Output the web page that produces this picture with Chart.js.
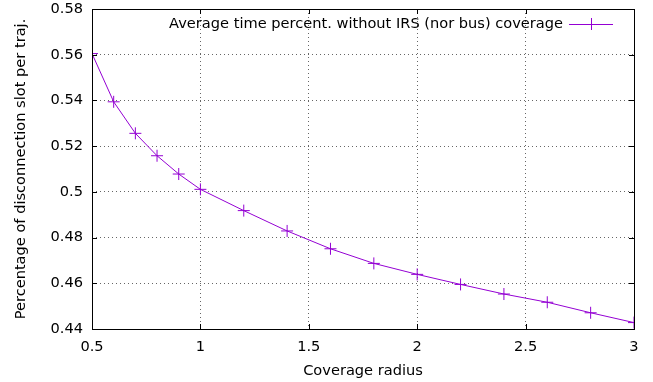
<!DOCTYPE html>
<html lang="en">

<head>
  <meta charset="UTF-8">
  <title>Coverage radius</title>
  <style>
    html, body { margin: 0; padding: 0; background: #fff; }
    #grafico-box { width: 653px; height: 382px; }
  </style>
</head>

<body>
  <div id="grafico-box">
    <canvas id="chart_cobertura"></canvas>
  </div>

  <script src="https://cdn.jsdelivr.net/npm/chart.js"></script>
  <script>
    // dados
    const raios = [0.5, 0.6, 0.7, 0.8, 0.9, 1.0, 1.2, 1.4, 1.6, 1.8, 2.0, 2.2, 2.4, 2.6, 2.8, 3.0];
    const percentuais = [0.5605, 0.5394, 0.5256, 0.5158, 0.5078, 0.5011, 0.4918, 0.4829, 0.4751, 0.4687,
      0.4639, 0.4595, 0.4553, 0.4517, 0.4471, 0.4428];
    const xTicks = [0.5, 1, 1.5, 2, 2.5, 3];
    const yTicks = [0.44, 0.46, 0.48, 0.5, 0.52, 0.54, 0.56, 0.58];

    const nomeSerie = 'Average time percent. without IRS (nor bus) coverage';
    const cor = '#9400d3';
    const fonte = 'DejaVu Sans';
    const tamFonte = 14.6;

    // bordas e marcas para dentro, estilo gnuplot
    const molduraPlugin = {
      id: 'moldura',
      afterDraw(chart) {
        const { ctx, chartArea: a, scales } = chart;
        ctx.save();
        ctx.strokeStyle = '#000';
        ctx.lineWidth = 1;
        ctx.beginPath();
        xTicks.forEach(v => {
          const x = Math.round(scales.x.getPixelForValue(v)) + 0.5;
          ctx.moveTo(x, a.bottom); ctx.lineTo(x, a.bottom - 5);
          ctx.moveTo(x, a.top); ctx.lineTo(x, a.top + 5);
        });
        yTicks.forEach(v => {
          const y = Math.round(scales.y.getPixelForValue(v)) + 0.5;
          ctx.moveTo(a.left, y); ctx.lineTo(a.left + 5, y);
          ctx.moveTo(a.right, y); ctx.lineTo(a.right - 5, y);
        });
        ctx.stroke();
        ctx.strokeRect(Math.round(a.left) + 0.5, Math.round(a.top) + 0.5,
          Math.round(a.right - a.left), Math.round(a.bottom - a.top));

        // legenda dentro do grafico
        const yL = a.top + 15;
        const fimTexto = a.right - 71;
        ctx.font = tamFonte + 'px "' + fonte + '"';
        ctx.fillStyle = '#000';
        ctx.textAlign = 'right';
        ctx.textBaseline = 'middle';
        ctx.fillText(nomeSerie, fimTexto, yL);
        ctx.strokeStyle = cor;
        ctx.beginPath();
        ctx.moveTo(fimTexto + 6, yL + 0.5);
        ctx.lineTo(fimTexto + 50, yL + 0.5);
        ctx.moveTo(fimTexto + 28.5, yL - 6);
        ctx.lineTo(fimTexto + 28.5, yL + 6);
        ctx.stroke();
        ctx.restore();
      }
    };

    Chart.defaults.font.family = fonte;
    Chart.defaults.font.size = tamFonte;
    Chart.defaults.color = '#000';

    new Chart(document.getElementById('chart_cobertura'), {
      type: 'line',
      data: {
        datasets: [{
          label: nomeSerie,
          data: raios.map((r, i) => ({ x: r, y: percentuais[i] })),
          borderColor: cor,
          backgroundColor: cor,
          borderWidth: 1,
          pointStyle: 'cross',
          pointRadius: 6,
          pointBorderWidth: 1,
          tension: 0,
          fill: false
        }]
      },
      options: {
        responsive: true,
        maintainAspectRatio: false,
        animation: false,
        layout: { padding: { top: 9, right: 19, left: 0, bottom: 0 } },
        plugins: {
          legend: { display: false },
          tooltip: { enabled: false }
        },
        scales: {
          x: {
            type: 'linear',
            min: 0.5,
            max: 3,
            afterBuildTicks: s => { s.ticks = xTicks.map(v => ({ value: v })); },
            afterFit: s => { s.height = 53; s.paddingLeft = 0; s.paddingRight = 0; },
            ticks: { padding: 9, callback: v => String(v) },
            grid: {
              color: '#666',
              lineWidth: 1,
              drawTicks: false
            },
            border: { display: false, dash: [1, 3] },
            title: {
              display: true,
              text: 'Coverage radius',
              padding: { top: 6, bottom: 2 }
            }
          },
          y: {
            type: 'linear',
            min: 0.44,
            max: 0.58,
            afterBuildTicks: s => { s.ticks = yTicks.map(v => ({ value: v })); },
            afterFit: s => { s.width = 92; s.paddingTop = 0; s.paddingBottom = 0; },
            ticks: { padding: 9, callback: v => String(parseFloat(v.toFixed(2))) },
            grid: {
              color: '#666',
              lineWidth: 1,
              drawTicks: false
            },
            border: { display: false, dash: [1, 3] },
            title: {
              display: true,
              text: 'Percentage of disconnection slot per traj.',
              padding: { top: 12, bottom: 4 }
            }
          }
        }
      },
      plugins: [molduraPlugin]
    });
  </script>
</body>

</html>
